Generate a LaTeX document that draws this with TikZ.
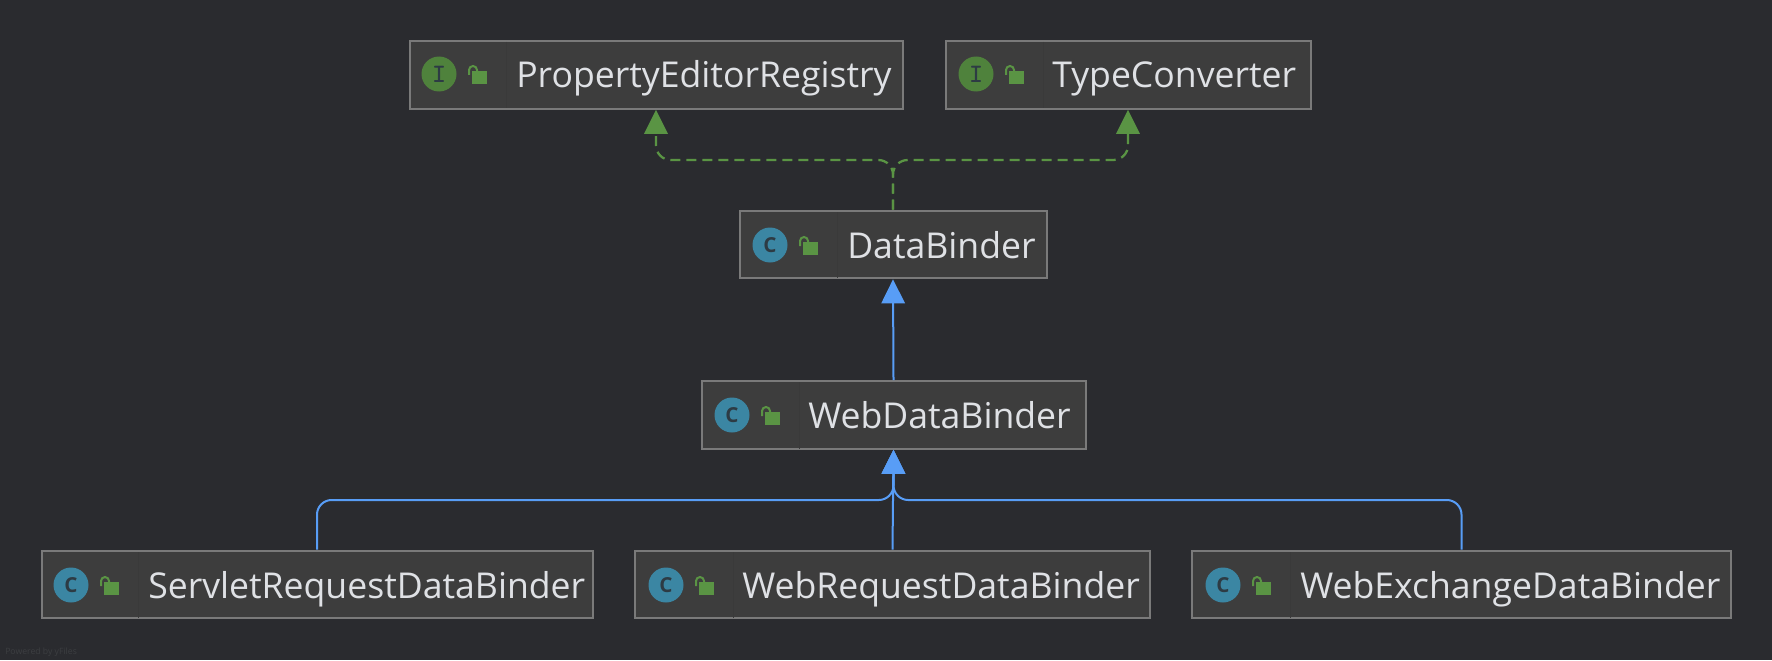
\documentclass[tikz,border=0pt]{standalone}
\usepackage{fontspec}
\setmainfont{Open Sans}
\usetikzlibrary{arrows.meta}
\definecolor{bgcol}{HTML}{2A2B2F}
\definecolor{boxcol}{HTML}{3D3D3D}
\definecolor{bordercol}{HTML}{7A7A7A}
\definecolor{dividercol}{HTML}{3A3A3A}
\definecolor{txtcol}{HTML}{DFE1E5}
\definecolor{greencol}{HTML}{5A9444}
\definecolor{bluecol}{HTML}{589DF6}
\definecolor{classcol}{HTML}{3B86A3}
\definecolor{lettercol}{HTML}{2D3B44}
\definecolor{faintcol}{HTML}{3C3E41}

\tikzset{
  umlbox/.style={rectangle, draw=bordercol, fill=boxcol, line width=1.5pt, minimum height=50.75pt, inner sep=0pt},
  classicon/.style={circle, fill=classcol, minimum size=26.25pt, inner sep=0pt, text=lettercol, font=\bfseries\fontsize{15.5}{15}\selectfont},
  ifaceicon/.style={circle, fill=greencol!88!black, minimum size=26.25pt, inner sep=0pt, text=lettercol, font=\ttfamily\bfseries\fontsize{20}{15}\selectfont},
  boxtext/.style={anchor=base west, inner sep=0pt, text=txtcol, font=\fontsize{26.7}{30}\selectfont},
  divider/.style={draw=dividercol, line width=0.75pt},
  implline/.style={draw=greencol, line width=1.7pt, dash pattern=on 7.5pt off 4.5pt, rounded corners=11pt},
  extline/.style={draw=bluecol, line width=1.5pt, rounded corners=11pt},
  implhead/.style={-{Triangle[length=18pt, width=17.5pt, fill=greencol]}},
  exthead/.style={-{Triangle[length=18pt, width=17.5pt, fill=bluecol]}},
  lockicon/.pic={
    \fill[greencol] (33,-3) rectangle (48,10);
    \draw[greencol, line width=1.5pt] (30,1) -- (30,-4) arc[start angle=180, end angle=0, radius=3pt] -- (38,-3);
  }
}

\begin{document}
\begin{tikzpicture}[x=0.75pt, y=-0.75pt]
\useasboundingbox (0,0) rectangle (1772,660);
\fill[bgcol] (0,0) rectangle (1772,660);

\node[umlbox, minimum width=369.75pt] (Registry) at (656,75) {};
\node[umlbox, minimum width=273.75pt] (Converter) at (1128,75) {};
\node[umlbox, minimum width=230.25pt] (Binder) at (893,244.5) {};
\node[umlbox, minimum width=288pt] (WebBinder) at (893.5,415) {};
\node[umlbox, minimum width=413.25pt] (Servlet) at (317,584.5) {};
\node[umlbox, minimum width=386.25pt] (WebRequest) at (892.5,584.5) {};
\node[umlbox, minimum width=404.25pt] (Exchange) at (1461.5,584.5) {};

% icon column
\draw[divider] (506,42) -- (506,108);
\draw[divider] (1043,42) -- (1043,108);
\draw[divider] (837,212) -- (837,278);
\draw[divider] (799,382) -- (799,449);
\draw[divider] (138,552) -- (138,618);
\draw[divider] (733,552) -- (733,618);
\draw[divider] (1290,552) -- (1290,618);

\node[ifaceicon] (RegistryIcon) at (439,74) {I};
\node[ifaceicon] (ConverterIcon) at (976,74) {I};
\node[classicon] (BinderIcon) at (770,245) {C};
\node[classicon] (WebBinderIcon) at (732,415) {C};
\node[classicon] (ServletIcon) at (71,585) {C};
\node[classicon] (WebRequestIcon) at (666,585) {C};
\node[classicon] (ExchangeIcon) at (1223,585) {C};

\pic at (RegistryIcon) {lockicon};
\pic at (ConverterIcon) {lockicon};
\pic at (BinderIcon) {lockicon};
\pic at (WebBinderIcon) {lockicon};
\pic at (ServletIcon) {lockicon};
\pic at (WebRequestIcon) {lockicon};
\pic at (ExchangeIcon) {lockicon};

\node[boxtext] (RegistryText) at (516,87) {PropertyEditorRegistry};
\node[boxtext] (ConverterText) at (1052,87) {TypeConverter};
\node[boxtext] (BinderText) at (847,258) {DataBinder};
\node[boxtext] (WebBinderText) at (808,428) {WebDataBinder};
\node[boxtext] (ServletText) at (148,598) {ServletRequestDataBinder};
\node[boxtext] (WebRequestText) at (742,598) {WebRequestDataBinder};
\node[boxtext] (ExchangeText) at (1300,598) {WebExchangeDataBinder};
\node[anchor=base west, inner sep=0pt, text=faintcol, font=\fontsize{6.5}{8}\selectfont] (Powered) at (5,654) {Powered by yFiles};

\coordinate (implbus) at (893,160);
\coordinate (extbus) at (893,500);

\draw[implline, implhead] (Binder.north) -- (Binder.north |- implbus) -- (Registry.south |- implbus) -- (Registry.south);
\draw[implline, implhead] (Binder.north) -- (Binder.north |- implbus) -- (Converter.south |- implbus) -- (Converter.south);
\draw[extline, exthead] (WebBinder.north) -- (Binder.south);
\draw[extline, exthead] (WebRequest.north) -- (WebBinder.south);
\draw[extline, exthead] (Servlet.north) -- (Servlet.north |- extbus) -- (WebBinder.south |- extbus) -- (WebBinder.south);
\draw[extline, exthead] (Exchange.north) -- (Exchange.north |- extbus) -- (WebBinder.south |- extbus) -- (WebBinder.south);
\end{tikzpicture}
\end{document}
